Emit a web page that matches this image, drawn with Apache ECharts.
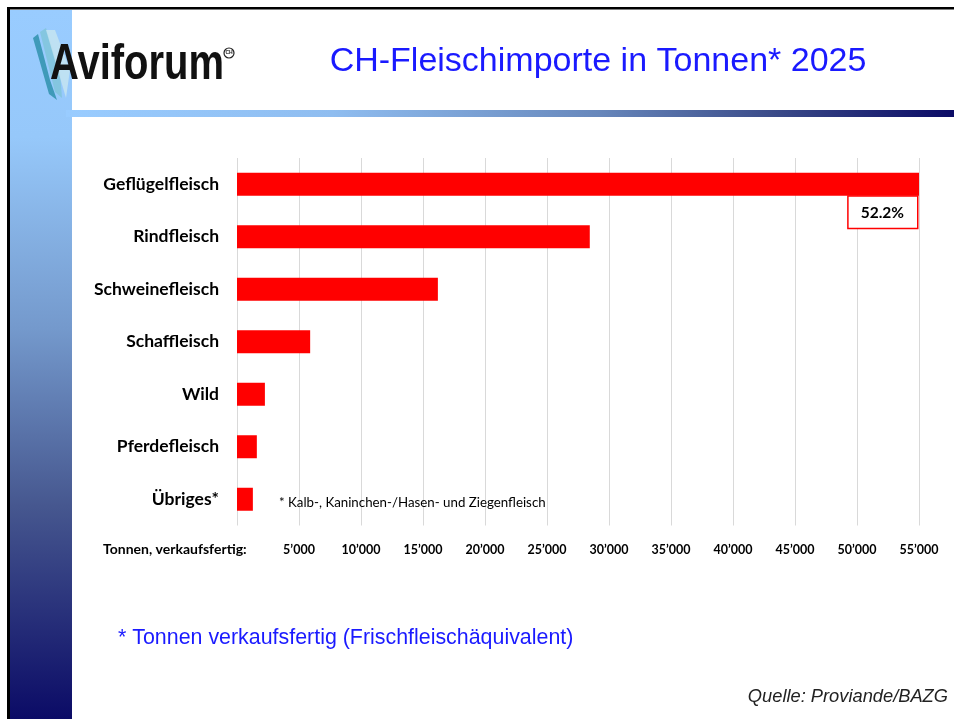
<!DOCTYPE html>
<html>
<head>
<meta charset="utf-8">
<script src="https://cdn.jsdelivr.net/npm/echarts@6/dist/echarts.min.js"></script>
<style>
html,body{margin:0;padding:0;background:#fff;}
#c{width:954px;height:719px;}
</style>
</head>
<body>
<div id="c"></div>
<script>
const categories = ['Geflügelfleisch','Rindfleisch','Schweinefleisch','Schaffleisch','Wild','Pferdefleisch','Übriges*'];
const values = [55000, 28450, 16200, 5900, 2250, 1600, 1280];
const shareLabel = '52.2%';
const tickMax = 55000;
const tickStep = 5000;
const titleText = 'CH-Fleischimporte in Tonnen* 2025';
const axisTitle = 'Tonnen, verkaufsfertig:';
const noteText = '* Kalb-, Kaninchen-/Hasen- und Ziegenfleisch';
const footText = '* Tonnen verkaufsfertig (Frischfleischäquivalent)';
const sourceText = 'Quelle: Proviande/BAZG';

const chart = echarts.init(document.getElementById('c'));
const fmt = v => v === 0 ? '' : String(v).replace(/\B(?=(\d{3})+(?!\d))/g, '\u2019');
const lab = "Lato, 'Open Sans', sans-serif";

chart.setOption({
  animation: false,
  grid: {left: 237, right: 35, top: 158, bottom: 193.5, containLabel: false},
  xAxis: {
    type: 'value', min: 0, max: tickMax, interval: tickStep,
    axisLine: {show: false}, axisTick: {show: false},
    splitLine: {lineStyle: {color: '#d9d9d9', width: 1}},
    axisLabel: {formatter: fmt, fontFamily: lab, fontWeight: 'bold', fontSize: 12.5, color: '#000', margin: 18}
  },
  yAxis: {
    type: 'category', data: categories, inverse: true,
    axisLine: {show: false}, axisTick: {show: false},
    axisLabel: {fontFamily: lab, fontWeight: 'bold', fontSize: 17.5, color: '#000', margin: 18, padding: [6, 0, 0, 0]}
  },
  series: [{
    type: 'bar',
    data: values.map((v, i) => i === 0 ? {value: v, label: {
      show: true, formatter: shareLabel, position: ['100%', '100%'], align: 'right', verticalAlign: 'top',
      offset: [-2, 1], fontFamily: lab, fontWeight: 'bold', fontSize: 15.5, lineHeight: 16, color: '#000',
      borderColor: '#ff0000', borderWidth: 1.5, backgroundColor: '#fff', padding: [8, 13, 7, 12]
    }} : v),
    barWidth: 23,
    itemStyle: {color: '#ff0000'},
    silent: true
  }],
  graphic: [
    {type: 'rect', shape: {x: 10, y: 10, width: 62, height: 709}, z: 1,
      style: {fill: new echarts.graphic.LinearGradient(0, 0, 0, 1, [
        {offset: 0, color: '#99ccff'}, {offset: 0.18, color: '#96c8fa'}, {offset: 0.45, color: '#7499cc'},
        {offset: 0.7, color: '#46578f'}, {offset: 1, color: '#0b0b66'}])}},
    {type: 'rect', shape: {x: 66, y: 110, width: 888, height: 7}, z: 1,
      style: {fill: new echarts.graphic.LinearGradient(0, 0, 1, 0, [
        {offset: 0, color: '#99ccff'}, {offset: 0.3, color: '#8fbdf0'}, {offset: 0.6, color: '#6787bb'},
        {offset: 0.8, color: '#3a4a88'}, {offset: 1, color: '#0b0b66'}])}},
    {type: 'rect', shape: {x: 7, y: 7, width: 947, height: 2.5}, z: 2, style: {fill: '#000'}},
    {type: 'rect', shape: {x: 7, y: 7, width: 3, height: 712}, z: 2, style: {fill: '#000'}},
    // feather
    {type: 'polygon', shape: {points: [[33,38],[38,34],[50,80],[57,100],[49,94]]}, z: 3, style: {fill: '#2f92ad', opacity: 0.85}},
    {type: 'polygon', shape: {points: [[40,32],[46,28],[60,72],[62,98],[55,92]]}, z: 3, style: {fill: '#7fc4d8', opacity: 0.8}},
    {type: 'polygon', shape: {points: [[46,30],[55,30],[70,70],[66,98]]}, z: 3, style: {fill: '#c8e6f0', opacity: 0.8}},
    // logo text
    {type: 'text', x: 50, y: 65, scaleX: 0.8, z: 4, style: {text: 'Aviforum', font: "bold 50px 'Liberation Sans', Arial, sans-serif", fill: '#111', textVerticalAlign: 'middle'}},
    {type: 'circle', shape: {cx: 229, cy: 53, r: 5}, z: 4, style: {fill: 'none', stroke: '#222', lineWidth: 1.2}},
    {type: 'text', x: 229, y: 53, z: 4, style: {text: 'CH', font: "bold 5px sans-serif", fill: '#222', textAlign: 'center', textVerticalAlign: 'middle'}},
    // title
    {type: 'text', x: 598, y: 62, z: 4, style: {text: titleText, font: "34px 'Liberation Sans', Arial, sans-serif", fill: '#1a1aff', textAlign: 'center', textVerticalAlign: 'middle'}},
    {type: 'text', x: 103, y: 549, z: 4, style: {text: axisTitle, font: "bold 14px Lato, sans-serif", fill: '#000', textVerticalAlign: 'middle'}},
    {type: 'text', x: 279, y: 503, z: 4, style: {text: noteText, font: "13.3px Lato, sans-serif", fill: '#000', textVerticalAlign: 'middle'}},
    {type: 'text', x: 118, y: 638, z: 4, style: {text: footText, font: "21.4px 'Liberation Sans', Arial, sans-serif", fill: '#1a1aff', textVerticalAlign: 'middle'}},
    {type: 'text', x: 948, y: 697, z: 4, style: {text: sourceText, font: "italic 18.3px 'Liberation Sans', Arial, sans-serif", fill: '#222', textAlign: 'right', textVerticalAlign: 'middle'}}
  ]
});
</script>
</body>
</html>
